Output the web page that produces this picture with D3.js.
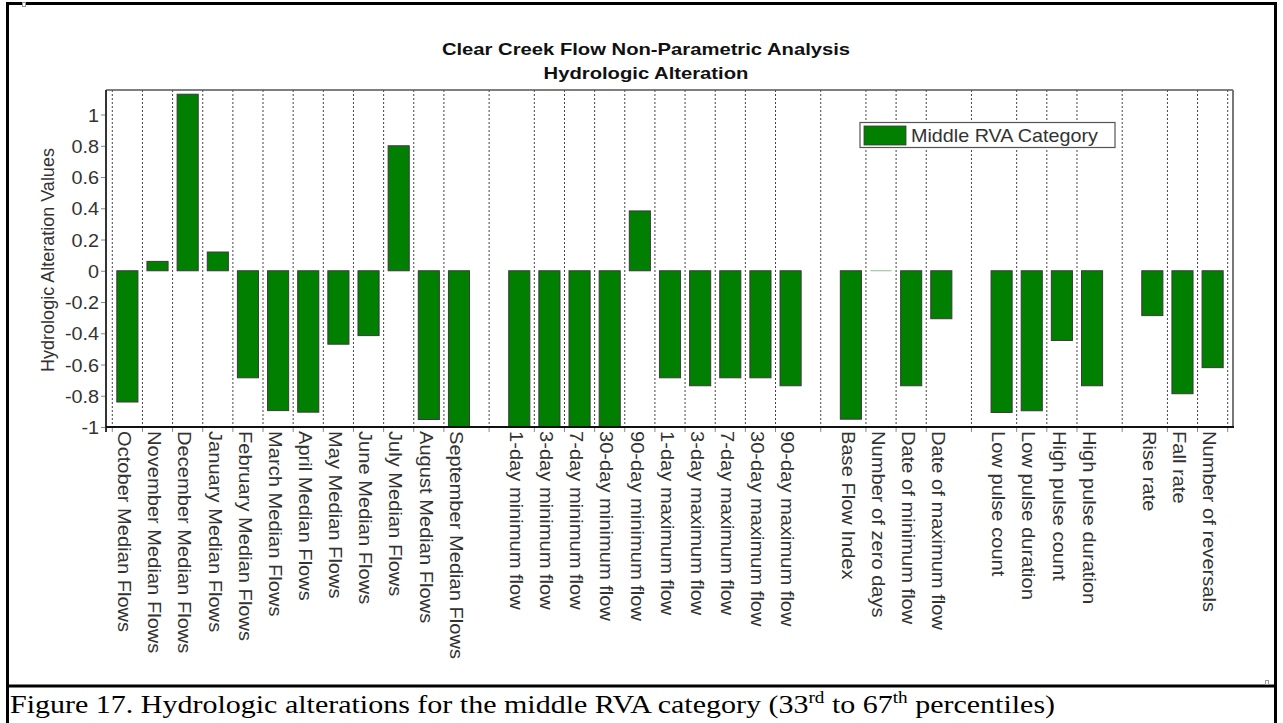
<!DOCTYPE html>
<html>
  <head>
    <meta charset="utf-8">
    <script src="https://d3js.org/d3.v7.min.js"></script>
    <style type="text/css">
body{
	margin: 0;
	background: white;
}
svg{
	display: block;
}
.axis-text{
	font-family: "Liberation Sans", Arial, sans-serif;
	fill: #333;
}
    </style>
  </head>
  <body>
	<script>
		// IHA groups (gaps between groups are empty slots)
		var monthLabels = ["October Median Flows","November Median Flows","December Median Flows","January Median Flows",
			"February Median Flows","March Median Flows","April Median Flows","May Median Flows","June Median Flows",
			"July Median Flows","August Median Flows","September Median Flows"];
		var monthValues = [-0.84, 0.06, 1.13, 0.12, -0.685, -0.895, -0.905, -0.47, -0.415, 0.80, -0.952, -1.0];

		var extremeLabels = ["1-day minimum flow","3-day minimum flow","7-day minimum flow","30-day minimum flow",
			"90-day minimum flow","1-day maximum flow","3-day maximum flow","7-day maximum flow","30-day maximum flow",
			"90-day maximum flow"];
		var extremeValues = [-1.0, -1.0, -1.0, -1.0, 0.383, -0.685, -0.736, -0.685, -0.685, -0.736];

		var timingLabels = ["Base Flow Index","Number of zero days","Date of minimum flow","Date of maximum flow"];
		var timingValues = [-0.95, 0.0, -0.736, -0.307];

		var pulseLabels = ["Low pulse count","Low pulse duration","High pulse count","High pulse duration"];
		var pulseValues = [-0.907, -0.896, -0.446, -0.736];

		var rateLabels = ["Rise rate","Fall rate","Number of reversals"];
		var rateValues = [-0.287, -0.787, -0.62];

		var yTicks = [-1, -0.8, -0.6, -0.4, -0.2, 0, 0.2, 0.4, 0.6, 0.8, 1];

		var groups = [[monthLabels, monthValues], [extremeLabels, extremeValues], [timingLabels, timingValues],
			[pulseLabels, pulseValues], [rateLabels, rateValues]];

		// flatten into slots, one empty slot between groups
		var slots = [];
		var bars = [];
		groups.forEach(function(g, gi){
			if (gi > 0) slots.push("gap" + gi);
			g[0].forEach(function(lab, i){
				slots.push(lab);
				bars.push({label: lab, value: g[1][i]});
			});
		});

		var width = 1283, height = 723;
		var plot = {left: 106, right: 1233, top: 90, bottom: 427, pad: 6.3};

		var svg = d3.select("body").append("svg")
			.attr("width", width)
			.attr("height", height);

		var x = d3.scaleBand()
			.domain(slots)
			.range([plot.left + plot.pad, plot.right - 5.3]);
		var bw = x.bandwidth();

		var y = d3.scaleLinear()
			.domain([-1, 1.157])
			.range([plot.bottom, plot.top]);

		// grid positions: outer edges plus midpoints between neighbouring bars
		var gridX = [x(bars[0].label)];
		for (var i = 1; i < bars.length; i++){
			gridX.push((x(bars[i-1].label) + x(bars[i].label)) / 2 + bw / 2);
		}
		gridX.push(x(bars[bars.length-1].label) + bw);

		svg.selectAll(".grid")
			.data(gridX)
			.enter().append("line")
			.attr("class", "grid")
			.attr("x1", function(d){ return d; })
			.attr("x2", function(d){ return d; })
			.attr("y1", plot.top)
			.attr("y2", plot.bottom)
			.attr("stroke", "#444")
			.attr("stroke-width", 1)
			.attr("stroke-dasharray", "2,2");

		// small tick marks below the x axis
		svg.selectAll(".xtick")
			.data(gridX)
			.enter().append("line")
			.attr("x1", function(d){ return d; })
			.attr("x2", function(d){ return d; })
			.attr("y1", plot.bottom)
			.attr("y2", plot.bottom + 5)
			.attr("stroke", "#888")
			.attr("stroke-width", 1);

		// bars
		var barW = bw * 0.7;
		svg.selectAll(".bar")
			.data(bars.filter(function(d){ return Math.abs(y(d.value) - y(0)) >= 1; }))
			.enter().append("rect")
			.attr("class", "bar")
			.attr("x", function(d){ return x(d.label) + (bw - barW) / 2; })
			.attr("y", function(d){ return Math.min(y(d.value), y(0)); })
			.attr("width", barW)
			.attr("height", function(d){ return Math.abs(y(d.value) - y(0)); })
			.attr("fill", "#007f00")
			.attr("stroke", "#3a3a3a")
			.attr("stroke-width", 1);

		// zero-valued bars show up as a faint line
		svg.selectAll(".zero")
			.data(bars.filter(function(d){ return Math.abs(y(d.value) - y(0)) < 1; }))
			.enter().append("line")
			.attr("x1", function(d){ return x(d.label) + (bw - barW) / 2; })
			.attr("x2", function(d){ return x(d.label) + (bw + barW) / 2; })
			.attr("y1", y(0))
			.attr("y2", y(0))
			.attr("stroke", "#8cc08c")
			.attr("stroke-width", 1);

		// plot frame
		svg.append("line")
			.attr("x1", plot.left).attr("x2", plot.right)
			.attr("y1", plot.top).attr("y2", plot.top)
			.attr("stroke", "#555").attr("stroke-width", 1.5);
		svg.append("line")
			.attr("x1", plot.right).attr("x2", plot.right)
			.attr("y1", plot.top).attr("y2", plot.bottom)
			.attr("stroke", "#777").attr("stroke-width", 2);

		// y axis
		var yAxis = svg.append("g")
			.attr("transform", "translate(" + plot.left + ",0)")
			.call(d3.axisLeft(y).tickValues(yTicks).tickSize(5).tickPadding(3)
				.tickFormat(function(d){ return String(+d.toFixed(1)); }));
		yAxis.select(".domain").remove();
		yAxis.selectAll(".tick line").attr("stroke", "#888");
		yAxis.selectAll(".tick text")
			.attr("class", "axis-text")
			.attr("font-size", 18)
			.attr("x", 0).attr("dy", 0)
			.attr("transform", "translate(-7,6.5) scale(1.1,1)")
			.style("text-anchor", "end");

		svg.append("line")
			.attr("x1", plot.left).attr("x2", plot.left)
			.attr("y1", plot.top).attr("y2", plot.bottom + 5)
			.attr("stroke", "#333").attr("stroke-width", 2);
		svg.append("line")
			.attr("x1", plot.left).attr("x2", plot.right + 1)
			.attr("y1", plot.bottom).attr("y2", plot.bottom)
			.attr("stroke", "#111").attr("stroke-width", 2);

		// x labels, rotated
		svg.selectAll(".xlab")
			.data(bars)
			.enter().append("text")
			.attr("class", "axis-text")
			.attr("font-size", 17.5)
			.attr("fill", "#222")
			.attr("transform", function(d){
				return "translate(" + (x(d.label) + bw / 2 - 3) + "," + (plot.bottom + 4) + ") rotate(90) scale(1.15,1)";
			})
			.attr("dy", "0.36em")
			.text(function(d){ return d.label; });

		svg.append("text")
			.attr("class", "axis-text")
			.attr("font-size", 18)
			.attr("transform", "translate(54,260) rotate(-90)")
			.style("text-anchor", "middle")
			.text("Hydrologic Alteration Values");

		// title
		var title = svg.append("g")
			.attr("font-family", "'Liberation Sans', Arial, sans-serif")
			.attr("font-weight", "bold")
			.attr("font-size", 17)
			.attr("fill", "#111")
			.style("text-anchor", "middle");
		title.append("text")
			.attr("transform", "translate(646,54.5) scale(1.19,1)")
			.text("Clear Creek Flow Non-Parametric Analysis");
		title.append("text")
			.attr("transform", "translate(646,79) scale(1.19,1)")
			.text("Hydrologic Alteration");

		// legend
		var legend = svg.append("g").attr("transform", "translate(860,122.5)");
		legend.append("rect")
			.attr("width", 255).attr("height", 25)
			.attr("fill", "white").attr("stroke", "#555").attr("stroke-width", 1.2);
		legend.append("rect")
			.attr("x", 4).attr("y", 3.5).attr("width", 42).attr("height", 19)
			.attr("fill", "#007f00").attr("stroke", "#3a3a3a").attr("stroke-width", 0.8);
		legend.append("text")
			.attr("class", "axis-text")
			.attr("fill", "#222")
			.attr("font-size", 19)
			.attr("transform", "translate(51,19.5) scale(1.04,1)")
			.text("Middle RVA Category");

		// document frame and caption
		svg.append("rect")
			.attr("x", 7.5).attr("y", 3.5)
			.attr("width", 1268).attr("height", 722)
			.attr("fill", "none").attr("stroke", "black").attr("stroke-width", 3);
		svg.append("line")
			.attr("x1", 7.5).attr("x2", 1275.5)
			.attr("y1", 686).attr("y2", 686)
			.attr("stroke", "black").attr("stroke-width", 3);

		svg.append("rect").attr("x", 22.5).attr("y", 2.5).attr("width", 3).attr("height", 4)
			.attr("fill", "white").attr("stroke", "#999").attr("stroke-width", 1);
		svg.append("rect").attr("x", 1265.5).attr("y", 680.5).attr("width", 3).attr("height", 4)
			.attr("fill", "white").attr("stroke", "#999").attr("stroke-width", 1);

		var caption = svg.append("text")
			.attr("font-family", "'Liberation Serif', 'Times New Roman', serif")
			.attr("font-size", 25)
			.attr("fill", "black")
			.attr("transform", "translate(10,713) scale(1.2,1)");
		caption.append("tspan").text("Figure 17. Hydrologic alterations for the middle RVA category (33");
		caption.append("tspan").attr("font-size", 16).attr("dy", -10).text("rd");
		caption.append("tspan").attr("dy", 10).text(" to 67");
		caption.append("tspan").attr("font-size", 16).attr("dy", -10).text("th");
		caption.append("tspan").attr("dy", 10).text(" percentiles)");
	</script>
  </body>
</html>
